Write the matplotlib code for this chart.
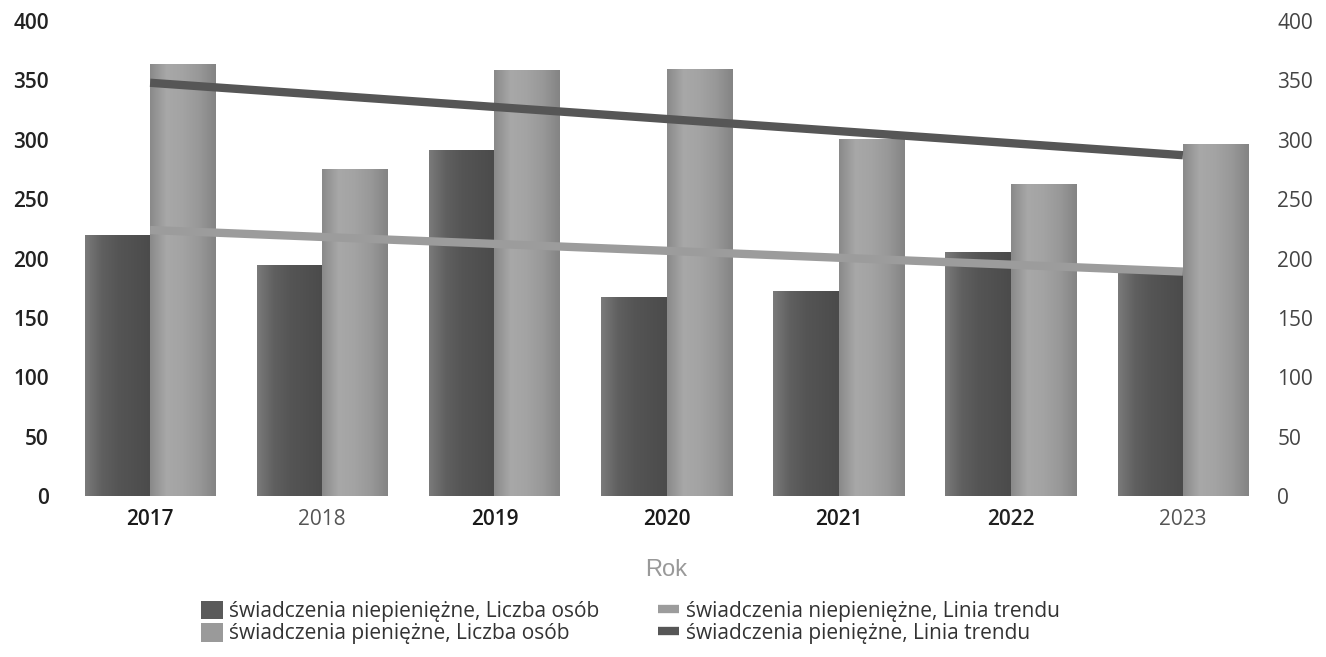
import numpy as np
import matplotlib.pyplot as plt
from matplotlib.patches import Patch
from matplotlib.lines import Line2D
from matplotlib.colors import LinearSegmentedColormap

years = ["2017", "2018", "2019", "2020", "2021", "2022", "2023"]
niepieniezne = [219, 194, 291, 167, 172, 205, 190]
pieniezne = [363, 275, 358, 359, 300, 262, 296]
# trend lines (start 2017, end 2023)
trend_niepien = [224, 189]
trend_pien = [348, 287]

label_niepien = "świadczenia niepieniężne, Liczba osób"
label_pien = "świadczenia pieniężne, Liczba osób"
label_tr_niepien = "świadczenia niepieniężne, Linia trendu"
label_tr_pien = "świadczenia pieniężne, Linia trendu"

plt.rcParams['font.family'] = ['Open Sans', 'DejaVu Sans']

fig = plt.figure(figsize=(13.26, 6.57), dpi=100)
ax = fig.add_axes([0.0483, 0.245, 0.9087, 0.723])

x = np.arange(len(years))
w = 0.38

# cylinder-ish shading like the scanned original
dark_cmap = LinearSegmentedColormap.from_list(
    "dk", ["#7a7a7a", "#606060", "#555555", "#505050", "#4b4b4b"])
light_cmap = LinearSegmentedColormap.from_list(
    "lt", ["#8a8a8a", "#a8a8a8", "#a3a3a3", "#989898", "#848484"])
grad = np.linspace(0, 1, 64).reshape(1, -1)

for xi, v in zip(x - w / 2, niepieniezne):
    ax.imshow(grad, cmap=dark_cmap, aspect='auto', zorder=2,
              extent=[xi - w / 2, xi + w / 2, 0, v])
for xi, v in zip(x + w / 2, pieniezne):
    ax.imshow(grad, cmap=light_cmap, aspect='auto', zorder=2,
              extent=[xi - w / 2, xi + w / 2, 0, v])

ax.plot([x[0], x[-1]], trend_niepien, color="#9c9c9c", lw=6, zorder=3,
        solid_capstyle='butt')
ax.plot([x[0], x[-1]], trend_pien, color="#565656", lw=6, zorder=4,
        solid_capstyle='butt')

ax.set_xlim(-0.5, len(years) - 0.5)
ax.set_ylim(0, 400)
ax.set_yticks(range(0, 401, 50))
ax.set_xticks(x)
ax.set_xticklabels(years, fontsize=15)
for lab, c in zip(ax.get_xticklabels(), ["#1a1a1a", "#555555", "#1a1a1a", "#1a1a1a",
                                          "#1a1a1a", "#222222", "#555555"]):
    lab.set_color(c)
    if c == "#1a1a1a" or c == "#222222":
        lab.set_fontweight("semibold")
ax.tick_params(axis='y', labelsize=15, labelcolor="#222222", length=0, pad=11)
for lab in ax.get_yticklabels():
    lab.set_fontweight("semibold")
ax.tick_params(axis='x', length=0, pad=9)
for s in ax.spines.values():
    s.set_visible(False)

ax2 = ax.twinx()
ax2.set_ylim(0, 400)
ax2.set_yticks(range(0, 401, 50))
ax2.tick_params(axis='y', labelsize=15, labelcolor="#444444", length=0, pad=6)
for s in ax2.spines.values():
    s.set_visible(False)

ax.set_xlabel("Rok", fontsize=17, color="#999999", family="Liberation Sans",
              labelpad=21)

handles = [
    Patch(facecolor="#5a5a5a", label=label_niepien),
    Patch(facecolor="#9a9a9a", label=label_pien),
    Line2D([0], [0], color="#9c9c9c", lw=6, solid_capstyle='butt',
           label=label_tr_niepien),
    Line2D([0], [0], color="#565656", lw=6, solid_capstyle='butt',
           label=label_tr_pien),
]
fig.legend(handles=handles, ncol=2, frameon=False, fontsize=15,
           loc='upper left', bbox_to_anchor=(0.142, 0.105),
           handlelength=1.05, handleheight=1.0, handletextpad=0.3,
           labelspacing=0.05, columnspacing=2.8, labelcolor="#333333",
           borderpad=0.1)

fig.savefig("out.png", dpi=100)
